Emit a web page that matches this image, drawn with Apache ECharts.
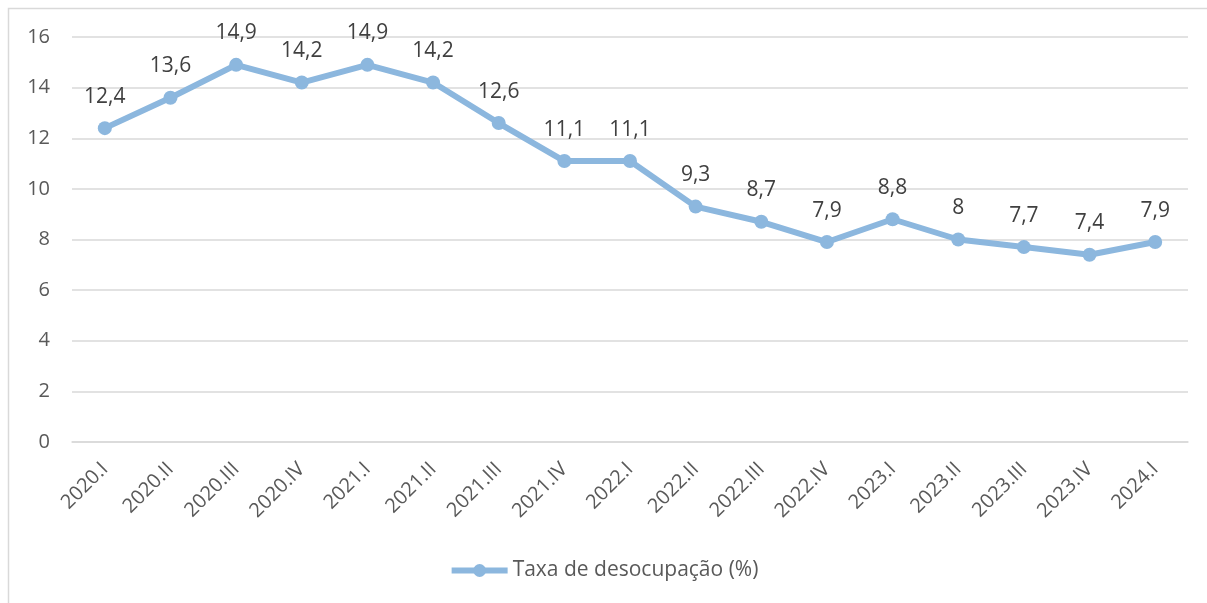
<!DOCTYPE html>
<html>
<head>
<meta charset="utf-8">
<script src="https://cdn.jsdelivr.net/npm/echarts@6/dist/echarts.min.js"></script>
<style>
  html, body { margin: 0; padding: 0; background: #fff; }
  #main { width: 1207px; height: 603px; }
</style>
</head>
<body>
<div id="main"></div>
<script>
// dados do gráfico
var categories = ['2020.I', '2020.II', '2020.III', '2020.IV', '2021.I', '2021.II', '2021.III', '2021.IV',
  '2022.I', '2022.II', '2022.III', '2022.IV', '2023.I', '2023.II', '2023.III', '2023.IV', '2024.I'];
var taxa = [12.4, 13.6, 14.9, 14.2, 14.9, 14.2, 12.6, 11.1, 11.1, 9.3, 8.7, 7.9, 8.8, 8, 7.7, 7.4, 7.9];
var seriesName = 'Taxa de desocupação (%)';

var myChart = echarts.init(document.getElementById('main'));
var fontFamily = 'Open Sans, Noto Sans, sans-serif';
var lineColor = '#8cb7de';

myChart.setOption({
  backgroundColor: '#fff',
  animation: false,
  textStyle: { fontFamily: fontFamily },
  graphic: [{
    type: 'rect',
    shape: { x: 8.5, y: 8.5, width: 1400, height: 1000 },
    style: { fill: 'none', stroke: '#d9d9d9', lineWidth: 1.5 },
    silent: true
  }],
  grid: { left: 72, right: 19, top: 37, bottom: 161 },
  legend: {
    bottom: 17,
    left: 'center',
    data: [seriesName],
    itemWidth: 56,
    itemHeight: 16,
    lineStyle: { width: 6, color: lineColor },
    textStyle: { color: '#595959', fontSize: 21, fontFamily: fontFamily }
  },
  xAxis: {
    type: 'category',
    data: categories,
    boundaryGap: true,
    axisLine: { show: true, lineStyle: { color: '#d9d9d9', width: 1.5 } },
    axisTick: { show: false },
    axisLabel: { rotate: 45, color: '#595959', fontSize: 20, margin: 24, interval: 0 }
  },
  yAxis: {
    type: 'value',
    min: 0,
    max: 16,
    interval: 2,
    axisLine: { show: false },
    axisTick: { show: false },
    axisLabel: { color: '#595959', fontSize: 20, margin: 22 },
    splitLine: { lineStyle: { color: '#d9d9d9', width: 1.5 } }
  },
  series: [{
    name: seriesName,
    type: 'line',
    data: taxa,
    symbol: 'circle',
    symbolSize: 14,
    lineStyle: { color: lineColor, width: 6 },
    itemStyle: { color: lineColor },
    label: {
      show: true,
      position: 'top',
      distance: 14,
      color: '#404040',
      fontSize: 21,
      formatter: function (p) { return String(p.value).replace('.', ','); }
    }
  }]
});
</script>
</body>
</html>
